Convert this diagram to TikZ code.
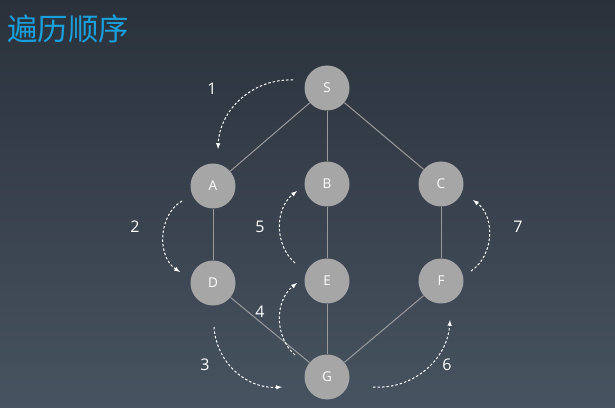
\documentclass[tikz,border=0pt]{standalone}
\usepackage{fontspec}
\setmainfont{Open Sans}
\newfontfamily\cjk{Noto Sans CJK SC}
\definecolor{bgtop}{HTML}{2A313B}
\definecolor{bgbot}{HTML}{475360}
\definecolor{titleblue}{HTML}{1AA0DC}
\definecolor{nodegrey}{HTML}{A6A6A6}
\definecolor{edgegrey}{HTML}{9A9A9A}

\begin{document}
\begin{tikzpicture}[
    x=1pt, y=1pt,
    vertex/.style = {circle,
                     fill=nodegrey,
                     minimum size=45pt,
                     inner sep=0pt,
                     text=white,
                     font=\fontsize{13.5}{13.5}\selectfont},
    edge/.style   = {edgegrey,
                     line width=1pt},
    arr/.style    = {white,
                     line width=1pt,
                     dash pattern=on 2.5pt off 2pt,
                     -latex},
    num/.style    = {text=white,
                     font=\fontsize{16}{16}\selectfont}
]
\useasboundingbox (0,0) rectangle (615,407);
\shade[top color=bgtop, bottom color=bgbot] (0,0) rectangle (615,407);

\node (title) [anchor=west, text=titleblue, inner sep=0pt]
      at (7,378) {\cjk\fontsize{30.5}{30.5}\selectfont 遍历顺序};

% vertices
\node (S) [vertex] at (327,319) {S};
\node (A) [vertex] at (213,221) {A};
\node (B) [vertex] at (327,223) {B};
\node (C) [vertex] at (441,223) {C};
\node (D) [vertex] at (213,124) {D};
\node (E) [vertex] at (327,126) {E};
\node (F) [vertex] at (441,126) {F};
\node (G) [vertex] at (327,30)  {G};

\draw[edge] (S) -- (A);
\draw[edge] (S) -- (B);
\draw[edge] (S) -- (C);
\draw[edge] (A) -- (D);
\draw[edge] (B) -- (E);
\draw[edge] (C) -- (F);
\draw[edge] (D) -- (G);
\draw[edge] (E) -- (G);
\draw[edge] (F) -- (G);

% traversal order
\coordinate (s1) at (293,327); \coordinate (e1) at (218,258);
\coordinate (s2) at (182,206); \coordinate (e2) at (180,135);
\coordinate (s3) at (214,80);  \coordinate (e3) at (282,20);
\coordinate (s4) at (295,52);  \coordinate (e4) at (297,124);
\coordinate (s5) at (295,144); \coordinate (e5) at (297,216);
\coordinate (s6) at (373,20);  \coordinate (e6) at (450,87);
\coordinate (s7) at (471,136); \coordinate (e7) at (473,207);

\draw[arr] (s1) to[bend right=45] (e1);
\draw[arr] (s2) to[bend right=58] (e2);
\draw[arr] (s3) to[bend right=45] (e3);
\draw[arr] (s4) to[bend left=50]  (e4);
\draw[arr] (s5) to[bend left=50]  (e5);
\draw[arr] (s6) to[bend right=45] (e6);
\draw[arr] (s7) to[bend right=55] (e7);

\node (n1) [num] at (212,318) {1};
\node (n2) [num] at (135,180) {2};
\node (n3) [num] at (205,42)  {3};
\node (n4) [num] at (260,95)  {4};
\node (n5) [num] at (260,180) {5};
\node (n6) [num] at (447,42)  {6};
\node (n7) [num] at (518,180) {7};
\end{tikzpicture}
\end{document}
